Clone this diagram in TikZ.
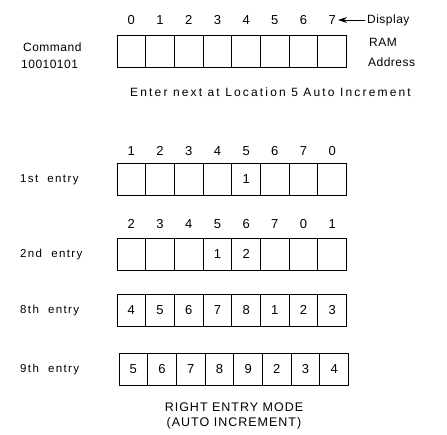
\documentclass[tikz,border=0pt]{standalone}
\usepackage{fontspec}
\setmainfont{Liberation Sans}
\newfontfamily\plainfam{Liberation Sans}
\newfontfamily\tightfam[LetterSpace=4]{Liberation Sans}
\newfontfamily\loosefam[LetterSpace=12]{Liberation Sans}
\newfontfamily\widefam[LetterSpace=18]{Liberation Sans}
\newfontfamily\modefam[LetterSpace=8]{Liberation Sans}
\usetikzlibrary{arrows.meta, positioning}

\newcommand\cellfont{\plainfam\fontsize{13}{15}\selectfont}
\newcommand\cmdfont{\tightfam\fontsize{12}{14}\selectfont}
\newcommand\entryfont{\loosefam\fontsize{11.5}{14}\selectfont}
\newcommand\notefont{\widefam\fontsize{12}{14}\selectfont}
\newcommand\modefont{\modefam\fontsize{12.5}{15}\selectfont}

\begin{document}
\begin{tikzpicture}[x=1pt, y=-1pt,
  digit/.style={font=\cellfont, inner sep=0pt},
  rowlbl/.style={font=\entryfont, anchor=west, inner sep=0pt},
  sidelbl/.style={font=\cmdfont, anchor=west, inner sep=0pt},
  divider/.style={line width=1pt},
  frame/.style={line width=1pt}
]
  \useasboundingbox (0,0) rectangle (447,434);

  % display RAM address
  \foreach \d [count=\i from 0] in {0,...,7}
    \node[digit] (top\i) at ({131.35+28.7*\i}, 20) {\d};
  \draw[frame] (117,35) rectangle (346.6,67);
  \foreach \i in {1,...,7}
    \draw[divider] ({117+28.7*\i}, 35) -- ({117+28.7*\i}, 67);

  \node[sidelbl] (cmdlbl) at (23,47) {Command};
  \node[sidelbl] (cmdcode) at (21,64) {10010101};
  \node[sidelbl] (disp) at (367,20) {Display};
  \node[sidelbl] (ram) at (369,42) {RAM};
  \node[sidelbl] (ramaddr) at (368,62) {Address};
  \draw[-{Stealth[length=9pt, width=6pt]}, line width=0.9pt] ([xshift=-2pt]disp.west) -- ([xshift=2pt]top7.east);

  \node[font=\notefont, anchor=west, inner sep=0pt] (note) at (130,92) {Enter next at Location 5 Auto Increment};

  % 1st entry
  \foreach \d [count=\i from 0] in {1,2,3,4,5,6,7,0}
    \node[digit] (ta\i) at ({131.35+28.7*\i}, 151) {\d};
  \draw[frame] (117,163) rectangle (346.6,195);
  \foreach \i in {1,...,7}
    \draw[divider] ({117+28.7*\i}, 163) -- ({117+28.7*\i}, 195);
  \node[digit] (ea4) at ({131.35+28.7*4}, 179) {1};
  \node[rowlbl] (lbla) at (20,180) {1st\ \ entry};

  % 2nd entry
  \foreach \d [count=\i from 0] in {2,3,4,5,6,7,0,1}
    \node[digit] (tb\i) at ({131.35+28.7*\i}, 224) {\d};
  \draw[frame] (117,238) rectangle (346.6,270);
  \foreach \i in {1,...,7}
    \draw[divider] ({117+28.7*\i}, 238) -- ({117+28.7*\i}, 270);
  \node[digit] (eb3) at ({131.35+28.7*3}, 254) {1};
  \node[digit] (eb4) at ({131.35+28.7*4}, 254) {2};
  \node[rowlbl] (lblb) at (20,255) {2nd\ \ entry};

  % 8th entry
  \draw[frame] (117,294) rectangle (346.6,326);
  \foreach \i in {1,...,7}
    \draw[divider] ({117+28.7*\i}, 294) -- ({117+28.7*\i}, 326);
  \foreach \d [count=\i from 0] in {4,5,6,7,8,1,2,3}
    \node[digit] (ec\i) at ({131.35+28.7*\i}, 310) {\d};
  \node[rowlbl] (lblc) at (20,311) {8th\ \ entry};

  % 9th entry
  \draw[frame] (119,353) rectangle (348.6,385);
  \foreach \i in {1,...,7}
    \draw[divider] ({119+28.7*\i}, 353) -- ({119+28.7*\i}, 385);
  \foreach \d [count=\i from 0] in {5,6,7,8,9,2,3,4}
    \node[digit] (ed\i) at ({133.35+28.7*\i}, 369) {\d};
  \node[rowlbl] (lbld) at (20,370) {9th\ \ entry};

  \node[font=\modefont, align=center] (mode) at (234,416) {RIGHT ENTRY MODE\\(AUTO INCREMENT)};
\end{tikzpicture}
\end{document}
